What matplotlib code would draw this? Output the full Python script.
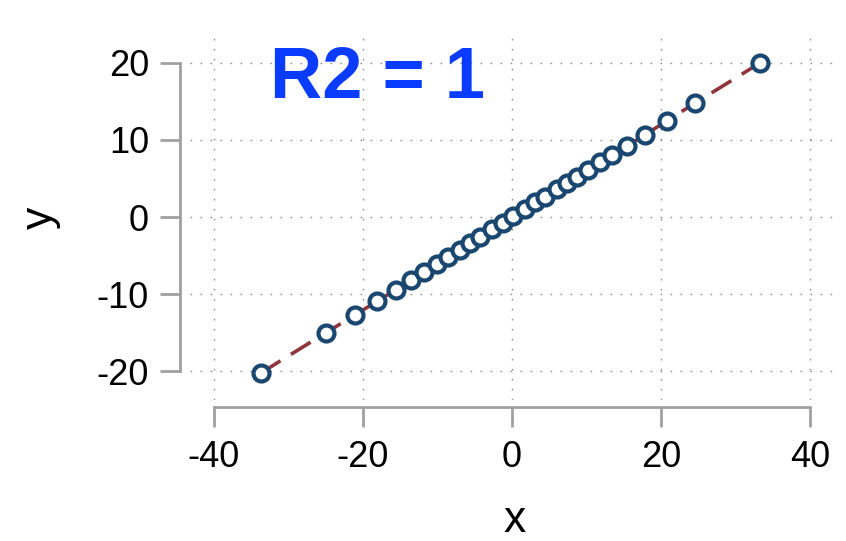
import numpy as np
import matplotlib.pyplot as plt

# values
x = [-33.7, -25.0, -21.1, -18.1, -15.6, -13.6, -11.8, -10.1, -8.6, -7.0,
     -5.6, -4.3, -2.7, -1.2, 0.1, 1.7, 3.1, 4.4, 6.0, 7.4,
     8.7, 10.2, 11.8, 13.4, 15.4, 17.9, 20.8, 24.6, 33.3]
y = [-20.2, -15.0, -12.7, -10.9, -9.4, -8.2, -7.1, -6.1, -5.2, -4.2,
     -3.4, -2.6, -1.6, -0.7, 0.1, 1.0, 1.9, 2.6, 3.6, 4.4,
     5.2, 6.1, 7.1, 8.0, 9.2, 10.7, 12.5, 14.8, 20.0]
xticks = [-40, -20, 0, 20, 40]
yticks = [-20, -10, 0, 10, 20]
label = "R2 = 1"

plt.rcParams['font.family'] = ['Liberation Sans', 'DejaVu Sans']
plt.rcParams['axes.unicode_minus'] = False

fig = plt.figure(figsize=(8.46, 5.41), dpi=100)
ax = fig.add_axes([0.2246, 0.2606, 0.7683, 0.6747])

# fit line (dashed) then hollow markers on top
ax.plot(x, y, color="#90353b", lw=2.6, dashes=(6.4, 3.4), zorder=2)
ax.plot(x, y, ls="none", marker="o", ms=11.5, mew=3,
        mec="#1a476f", mfc="white", zorder=3)

ax.text(-18.1, 15.4, label, color="#0a3cff", fontsize=52,
        fontweight="bold", ha="center", va="baseline", zorder=4)

ax.set_xlim(-43.2, 44.0)
ax.set_ylim(-23.7, 23.6)
ax.set_xticks(xticks)
ax.set_yticks(yticks)

ax.grid(True, color="#909090", lw=1.0, ls=(0, (1.2, 6.0)))
ax.set_axisbelow(True)

for s in ["top", "right"]:
    ax.spines[s].set_visible(False)
ax.spines["left"].set_position(("outward", 7))
ax.spines["bottom"].set_position(("outward", 5))
ax.spines["left"].set_bounds(-20, 20)
ax.spines["bottom"].set_bounds(-40, 40)
for s in ["left", "bottom"]:
    ax.spines[s].set_color("#a0a0a0")
    ax.spines[s].set_linewidth(2)

ax.tick_params(length=14.5, width=2, color="#a0a0a0", labelsize=26)
ax.tick_params(axis="y", pad=8)
ax.tick_params(axis="x", pad=9)

ax.set_xlabel("x", fontsize=32, labelpad=18)
ax.set_ylabel("y", fontsize=32, labelpad=26)

fig.savefig("out.png", dpi=100)
